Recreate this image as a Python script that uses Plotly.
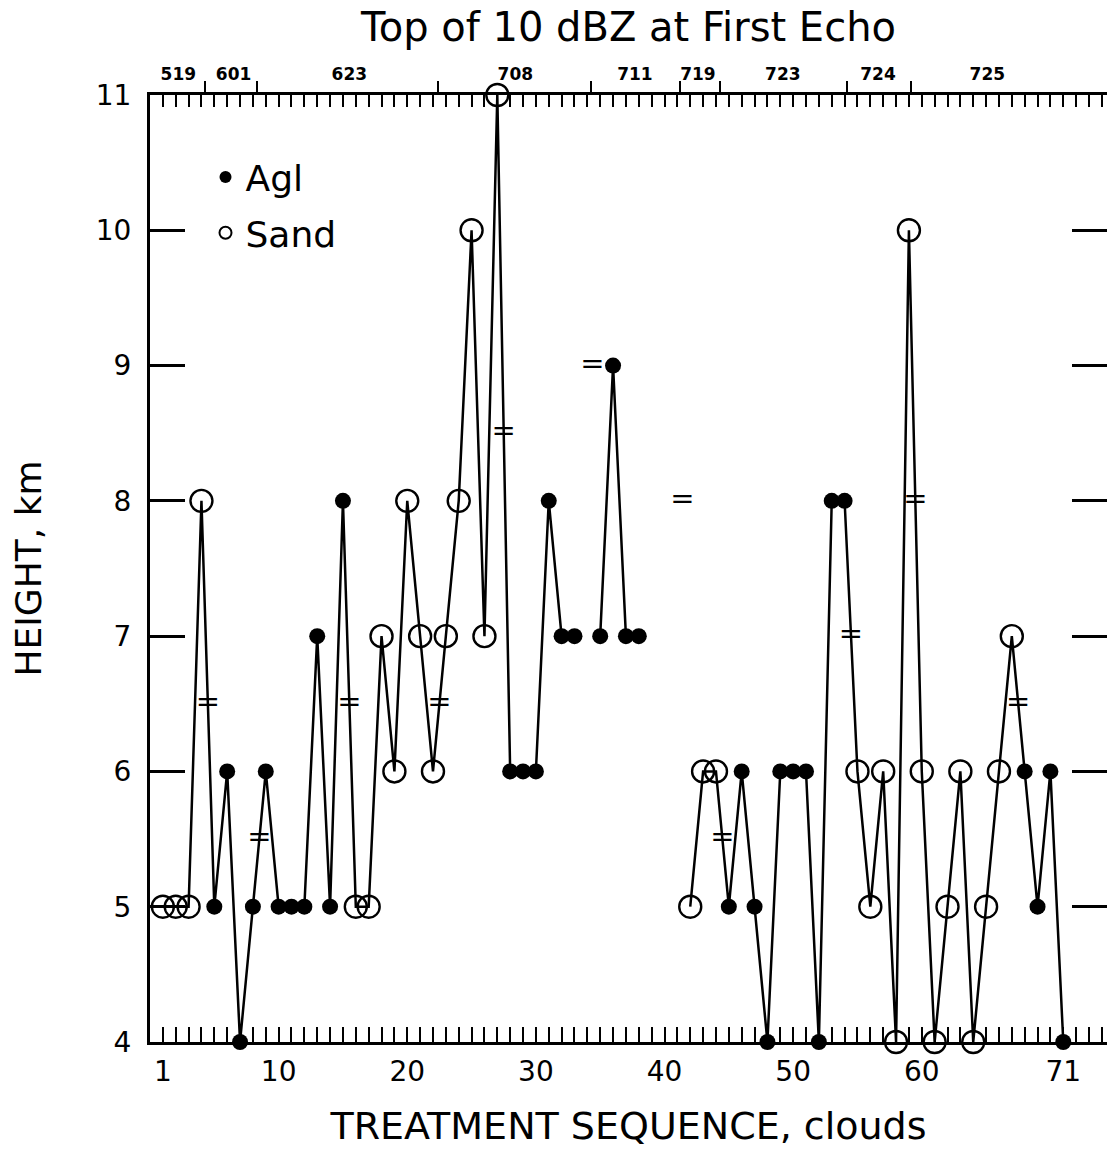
import plotly.graph_objects as go

# ---------------- data ----------------
seq = list(range(1, 72))
height = [5, 5, 5, 8, 5, 6, 4, 5, 6, 5,
          5, 5, 7, 5, 8, 5, 5, 7, 6, 8,
          7, 6, 7, 8, 10, 7, 11, 6, 6, 6,
          8, 7, 7, None, 7, 9, 7, 7, None, None,
          None, 5, 6, 6, 5, 6, 5, 4, 6, 6,
          6, 4, 8, 8, 6, 5, 6, 4, 10, 6,
          4, 5, 6, 4, 5, 6, 7, 6, 5, 6,
          4]
treatment = (["Sand"] * 4 + ["AgI"] * 11 + ["Sand"] * 12 + ["AgI"] * 6 + [None]
             + ["AgI"] * 4 + [None] * 3 + ["Sand"] * 3 + ["AgI"] * 10
             + ["Sand"] * 13 + ["AgI"] * 4)

# break ("=") marks along the sequence
break_x = [4.5, 8.5, 15.5, 22.5, 27.5, 34.4, 41.4, 44.5, 54.5, 59.5, 67.5]
break_y = [6.5, 5.5, 6.5, 6.5, 8.5, 9, 8, 5.5, 7, 8, 6.5]

# top axis: dates of the cases
date_bounds = [4.3, 8.3, 22.4, 34.3, 41.2, 44.3, 54.2, 59.2]
date_label_pos = [2.2, 6.5, 15.5, 28.4, 37.7, 42.6, 49.2, 56.6, 65.1]
date_labels = ["519", "601", "623", "708", "711", "719", "723", "724", "725"]

x_label_vals = [1, 10, 20, 30, 40, 50, 60, 71]
x_ticks = list(range(0, 75))
y_ticks = list(range(4, 12))
y_right_ticks = list(range(5, 11))

X_RANGE = [0, 74.4]
Y_RANGE = [4, 11]
FONT = "DejaVu Sans"

agl_x = [s for s, h, t in zip(seq, height, treatment) if t == "AgI"]
agl_y = [h for s, h, t in zip(seq, height, treatment) if t == "AgI"]
sand_x = [s for s, h, t in zip(seq, height, treatment) if t == "Sand"]
sand_y = [h for s, h, t in zip(seq, height, treatment) if t == "Sand"]

fig = go.Figure()

fig.add_trace(go.Scatter(
    x=seq, y=height, mode="lines", connectgaps=False,
    line=dict(color="black", width=2.5), showlegend=False,
    hoverinfo="skip", cliponaxis=False))

fig.add_trace(go.Scatter(
    x=agl_x, y=agl_y, mode="markers", name="Agl", legendgroup="a",
    marker=dict(symbol="circle", size=16, color="black"),
    cliponaxis=False))

fig.add_trace(go.Scatter(
    x=sand_x, y=sand_y, mode="markers", name="Sand", legendgroup="s",
    marker=dict(symbol="circle-open", size=22, color="black",
                line=dict(width=2.4, color="black")),
    cliponaxis=False))

fig.add_trace(go.Scatter(
    x=break_x, y=break_y, mode="text", text=["="] * len(break_x),
    textfont=dict(family=FONT, size=29, color="black"),
    showlegend=False, hoverinfo="skip", cliponaxis=False))

# invisible traces binding the extra axes
for xa, ya in [("x2", "y"), ("x3", "y"), ("x4", "y"), ("x", "y2")]:
    fig.add_trace(go.Scatter(x=seq, y=height, mode="lines", xaxis=xa, yaxis=ya,
                             line=dict(width=0, color="rgba(0,0,0,0)"),
                             showlegend=False, hoverinfo="skip"))

axis_common = dict(showgrid=False, zeroline=False, linecolor="black",
                   tickcolor="black")

fig.update_layout(
    width=1107, height=1156,
    margin=dict(l=150, r=0, t=95, b=114),
    paper_bgcolor="white", plot_bgcolor="white",
    font=dict(family=FONT, color="black"),
    title=dict(text="Top of 10 dBZ at First Echo", x=0.5, xref="paper",
               xanchor="center", y=1 - 27 / 1156, yanchor="middle",
               font=dict(family=FONT, size=40, color="black")),
    showlegend=True,
    legend=dict(x=0.058, y=0.945, xanchor="left", yanchor="top",
                bgcolor="rgba(0,0,0,0)", font=dict(family=FONT, size=36),
                itemsizing="constant", tracegroupgap=6),
    xaxis=dict(**axis_common, range=X_RANGE, domain=[0, 1], anchor="y",
               side="bottom", tickmode="array", tickvals=x_ticks,
               ticktext=[str(v) if v in x_label_vals else "" for v in x_ticks],
               ticks="inside", ticklen=15, tickwidth=2,
               showline=True, linewidth=3,
               tickfont=dict(family=FONT, size=28), ticklabelstandoff=2,
               title=dict(text="TREATMENT SEQUENCE, clouds", standoff=26,
                          font=dict(family=FONT, size=38))),
    xaxis2=dict(**axis_common, range=X_RANGE, overlaying="x", anchor="y",
                side="top", tickmode="array", tickvals=x_ticks,
                ticks="inside", ticklen=12, tickwidth=2,
                showticklabels=False, showline=True, linewidth=3),
    xaxis3=dict(**axis_common, range=X_RANGE, overlaying="x", anchor="y",
                side="top", tickmode="array", tickvals=date_bounds,
                ticks="outside", ticklen=13, tickwidth=2,
                showticklabels=False, showline=False),
    xaxis4=dict(**axis_common, range=X_RANGE, overlaying="x", anchor="y",
                side="top", tickmode="array", tickvals=date_label_pos,
                ticktext=date_labels, ticks="", showline=False,
                tickfont=dict(family=FONT, size=17, weight="bold"),
                ticklabelstandoff=11),
    yaxis=dict(**axis_common, range=Y_RANGE, anchor="x", side="left",
               tickmode="array", tickvals=y_ticks, ticks="inside",
               ticklen=35, tickwidth=2.5, showline=True, linewidth=3,
               tickfont=dict(family=FONT, size=28), ticklabelstandoff=10,
               title=dict(text="HEIGHT, km", standoff=44,
                          font=dict(family=FONT, size=36))),
    yaxis2=dict(**axis_common, range=Y_RANGE, overlaying="y", anchor="x",
                side="right", tickmode="array", tickvals=y_right_ticks,
                ticks="inside", ticklen=35, tickwidth=2.5,
                showticklabels=False, showline=False),
)

fig.write_html("out.html")
